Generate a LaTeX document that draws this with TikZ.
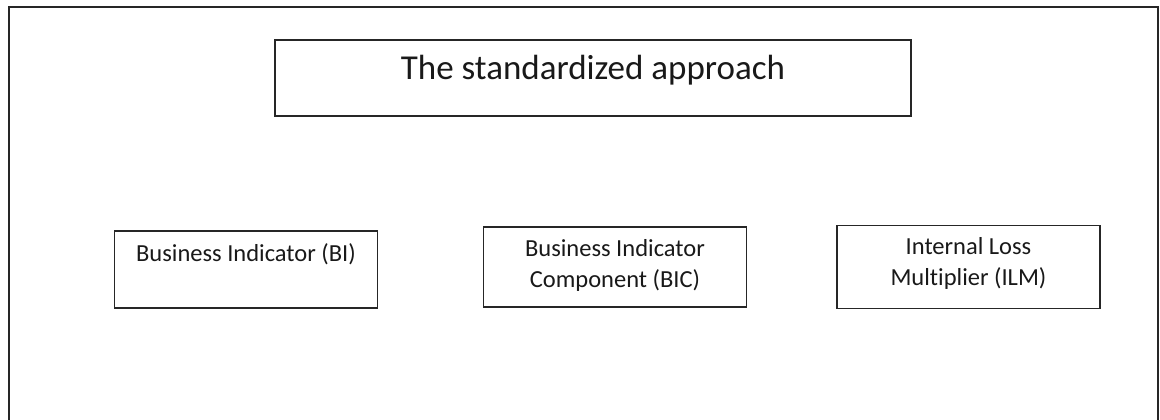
\documentclass[tikz,border=0pt]{standalone}
\usepackage{fontspec}
\setmainfont{Carlito}[Ligatures=NoCommon]
\usetikzlibrary{positioning}

\tikzset{
  frame/.style={draw=black!85, line width=2pt},
  box/.style={draw=black!85, line width=1.4pt, inner sep=0pt},
  boxtext/.style={text=black!90, align=center, inner sep=0pt, font=\fontsize{24.5}{31}\selectfont},
  headtext/.style={text=black!90, inner sep=0pt, font=\fontsize{35}{42}\selectfont}
}

\begin{document}
\begin{tikzpicture}[x=1pt,y=1pt]
  \pgfmathsetmacro {\bh}{80}   %box height
  \pgfmathsetmacro {\bw}{263}  %box width
  \pgfmathsetmacro {\by}{153}  %box row centre line
  \useasboundingbox (0,0) rectangle (1160,420);

  %Outer frame, open at the bottom
  \draw[frame] (9,0) -- (9,413) -- (1158,413) -- (1158,0);

  %Title box
  \node[box, minimum width=636pt, minimum height=76pt] (title) at (593,342) {};
  \node[headtext, anchor=base] (titletext) at ([yshift=-40pt]title.north) {The standardized approach};

  %The three components
  \node[box, minimum width=\bw pt, minimum height=77pt] (bi) at (246,\by-2.5) {};
  \node[box, minimum width=\bw pt, minimum height=\bh pt] (bic) at (615,\by) {};
  \node[box, minimum width=\bw pt, minimum height=83pt] (ilm) at (968.5,\by) {};

  %Texts sit at the top of the boxes (base = last line)
  \node[boxtext, anchor=base] (bitext) at ([yshift=-31pt]bi.north) {Business Indicator (BI)};
  \node[boxtext, anchor=base] (bictext) at ([yshift=-61pt]bic.north) {Business Indicator\\Component (BIC)};
  \node[boxtext, anchor=base] (ilmtext) at ([yshift=-61pt]ilm.north) {Internal Loss\\Multiplier (ILM)};
\end{tikzpicture}
\end{document}
